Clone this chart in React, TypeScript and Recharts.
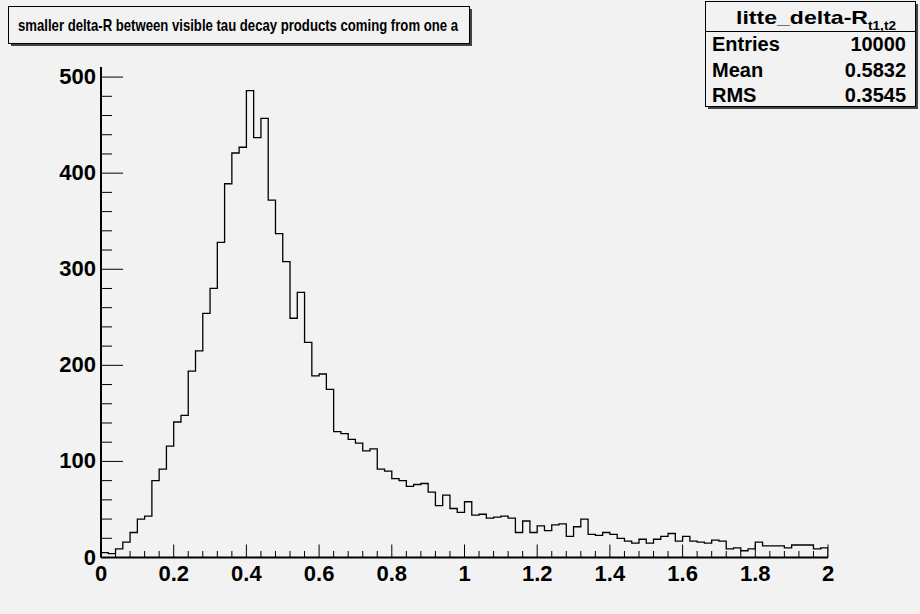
import React from 'react';
import { ComposedChart, Line, XAxis, YAxis } from 'recharts';

// ---- data ----
const chartTitle = 'smaller delta-R between visible tau decay products coming from one a';
const histName = 'litte_delta-R';
const histNameSub = 't1,t2';
const statsLabels = ['Entries', 'Mean', 'RMS'];
const statsValues = ['10000', '0.5832', '0.3545'];

const xLow = 0;
const xHigh = 2;
const binCounts = [
  5, 4, 9, 16, 26, 40, 43, 80, 92, 116,
  141, 148, 194, 215, 254, 280, 328, 389, 421, 427,
  486, 437, 457, 372, 337, 308, 249, 276, 224, 189,
  191, 175, 131, 129, 123, 119, 111, 113, 92, 90,
  82, 80, 74, 76, 77, 68, 54, 65, 51, 47,
  58, 44, 45, 41, 42, 43, 41, 26, 38, 26,
  33, 28, 34, 35, 22, 32, 40, 24, 23, 26,
  24, 20, 17, 15, 19, 15, 19, 22, 25, 17,
  22, 17, 16, 15, 18, 17, 9, 10, 7, 9,
  16, 12, 12, 12, 10, 13, 13, 13, 9, 10,
];

const xMajorTicks = [0, 0.2, 0.4, 0.6, 0.8, 1, 1.2, 1.4, 1.6, 1.8, 2];
const xMajorLabels = ['0', '0.2', '0.4', '0.6', '0.8', '1', '1.2', '1.4', '1.6', '1.8', '2'];
const yMajorTicks = [0, 100, 200, 300, 400, 500];
const yMajorLabels = ['0', '100', '200', '300', '400', '500'];
const xMinorPerMajor = 5;
const yMinorPerMajor = 5;
const yTop = 510.5;

// ---- derived tables ----
const binWidth = (xHigh - xLow) / binCounts.length;
const histData: { x: number; count: number }[] = [{ x: xLow, count: 0 }];
binCounts.forEach((c, i) => {
  histData.push({ x: Math.round((xLow + i * binWidth) * 1e6) / 1e6, count: c });
});
histData.push({ x: xHigh, count: binCounts[binCounts.length - 1] });
histData.push({ x: xHigh, count: 0 });

const buildTicks = (majors: number[], per: number) => {
  const out: number[] = [];
  for (let i = 0; i < majors.length; i++) {
    out.push(majors[i]);
    if (i < majors.length - 1) {
      const step = (majors[i + 1] - majors[i]) / per;
      for (let k = 1; k < per; k++) out.push(Math.round((majors[i] + k * step) * 1e6) / 1e6);
    }
  }
  return out;
};
const xAllTicks = buildTicks(xMajorTicks, xMinorPerMajor);
const yAllTicks = buildTicks(yMajorTicks, yMinorPerMajor);

const FONT = "'Liberation Sans', Arial, Helvetica, sans-serif";
const BG = '#f2f2f2';

const XTick = (props: any) => {
  const { x, y, payload } = props;
  const idx = xMajorTicks.indexOf(payload.value);
  const major = idx >= 0;
  return (
    <g>
      <line x1={x} x2={x} y1={y} y2={y - (major ? 13 : 6.5)} stroke="#000" strokeWidth={1} />
      {major && (
        <text x={x} y={y + 23} textAnchor="middle" fontFamily={FONT} fontWeight="bold" fontSize={22} fill="#000">
          {xMajorLabels[idx]}
        </text>
      )}
    </g>
  );
};

const YTick = (props: any) => {
  const { x, y, payload } = props;
  const idx = yMajorTicks.indexOf(payload.value);
  const major = idx >= 0;
  return (
    <g>
      <line x1={x} x2={x + (major ? 22 : 11)} y1={y} y2={y} stroke="#000" strokeWidth={1} />
      {major && (
        <text x={x - 5} y={y + 7} textAnchor="end" fontFamily={FONT} fontWeight="bold" fontSize={22} fill="#000">
          {yMajorLabels[idx]}
        </text>
      )}
    </g>
  );
};

export default function App() {
  return (
    <div style={{ position: 'absolute', left: 0, top: 0, width: 920, height: 614, background: BG }}>
      <ComposedChart
        width={920}
        height={614}
        data={histData}
        margin={{ top: 67, right: 92, bottom: 16.5, left: 0 }}
      >
        <XAxis
          xAxisId="x"
          dataKey="x"
          type="number"
          domain={[xLow, xHigh]}
          ticks={xAllTicks}
          interval={0}
          tickSize={0}
          tickMargin={0}
          tickLine={false}
          tick={<XTick />}
          height={40}
          axisLine={{ stroke: '#000', strokeWidth: 2 }}
          allowDataOverflow
        />
        <XAxis
          xAxisId="top"
          orientation="top"
          type="number"
          domain={[xLow, xHigh]}
          tick={false}
          tickLine={false}
          height={0}
          axisLine={{ stroke: '#000', strokeWidth: 1 }}
        />
        <YAxis
          yAxisId="y"
          type="number"
          domain={[0, yTop]}
          ticks={yAllTicks}
          interval={0}
          tickSize={0}
          tickMargin={0}
          tickLine={false}
          tick={<YTick />}
          width={101}
          axisLine={{ stroke: '#000', strokeWidth: 2 }}
          allowDataOverflow
        />
        <YAxis
          yAxisId="right"
          orientation="right"
          type="number"
          domain={[0, yTop]}
          tick={false}
          tickLine={false}
          width={0}
          axisLine={{ stroke: '#000', strokeWidth: 1 }}
        />
        <Line
          xAxisId="x"
          yAxisId="y"
          dataKey="count"
          type="stepAfter"
          stroke="#000"
          strokeWidth={1.3}
          dot={false}
          activeDot={false}
          isAnimationActive={false}
        />
      </ComposedChart>
      <svg width={920} height={614} style={{ position: 'absolute', left: 0, top: 0, pointerEvents: 'none' }}>
        {/* title box */}
        <rect x={11} y={9} width={461} height={37} fill="#444" />
        <rect x={8.5} y={6.5} width={461} height={37} fill={BG} stroke="#000" strokeWidth={1} />
        <text
          x={238}
          y={31}
          textAnchor="middle"
          textLength={440}
          lengthAdjust="spacingAndGlyphs"
          fontFamily={FONT}
          fontWeight="bold"
          fontSize={17}
          fill="#000"
        >
          {chartTitle}
        </text>
        {/* stats box */}
        <rect x={708} y={4} width={210} height={105} fill="#444" />
        <rect x={705.5} y={1.5} width={210} height={105} fill={BG} stroke="#000" strokeWidth={1} />
        <line x1={705.5} x2={915.5} y1={31.5} y2={31.5} stroke="#000" strokeWidth={1} />
        <text x={736} y={24} textLength={132} lengthAdjust="spacingAndGlyphs" fontFamily={FONT} fontWeight="bold" fontSize={19} fill="#000">
          {histName}
        </text>
        <text x={868} y={30} textLength={28} lengthAdjust="spacingAndGlyphs" fontFamily={FONT} fontWeight="bold" fontSize={12} fill="#000">
          {histNameSub}
        </text>
        {statsLabels.map((lab, i) => (
          <g key={lab}>
            <text x={712} y={51 + i * 25.5} fontFamily={FONT} fontWeight="bold" fontSize={20} fill="#000">
              {lab}
            </text>
            <text x={906} y={51 + i * 25.5} textAnchor="end" fontFamily={FONT} fontWeight="bold" fontSize={20} fill="#000">
              {statsValues[i]}
            </text>
          </g>
        ))}
      </svg>
    </div>
  );
}
